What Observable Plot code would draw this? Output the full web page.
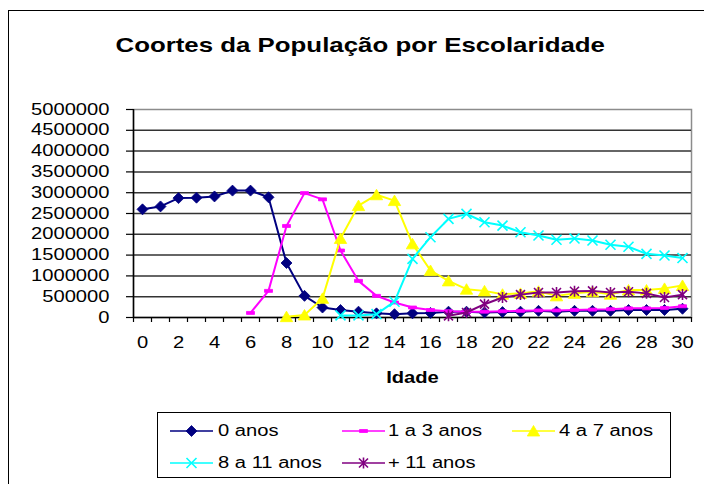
<!DOCTYPE html>
<html><head><meta charset="utf-8">
<script src="https://cdn.jsdelivr.net/npm/d3@7"></script>
<script src="https://cdn.jsdelivr.net/npm/@observablehq/plot@0.6"></script>
<style>
html,body{margin:0;padding:0;background:#fff;}
#page{position:relative;width:704px;height:484px;overflow:hidden;font-family:"Liberation Sans",Arial,sans-serif;color:#000;background:#fff;}
#bleft{position:absolute;left:8px;top:10px;width:1px;height:474px;background:#000;z-index:0;}
#btop{position:absolute;left:8px;top:10px;width:696px;height:1px;background:#000;z-index:0;}
#title{position:absolute;left:0;top:35px;width:720px;text-align:center;font-size:20.5px;font-weight:bold;line-height:1;white-space:nowrap;z-index:1;}
#title span{display:inline-block;transform:scaleX(1.26);}
#chart{position:absolute;left:0;top:91px;z-index:1;}
#legend{position:absolute;left:157px;top:412px;width:512px;height:64px;border:1px solid #000;background:#fff;z-index:1;}
.sw{position:absolute;overflow:visible;}
.ltext{position:absolute;font-size:16px;line-height:1;white-space:nowrap;transform-origin:left center;transform:scaleX(1.26);}
</style>
</head>
<body>
<div id="page">
  <div id="bleft"></div>
  <div id="btop"></div>
  <div id="title"><span>Coortes da População por Escolaridade</span></div>
  <div id="chart"></div>
  <div id="legend"></div>
</div>
<script>
// ---- data ----
const ages = [0,1,2,3,4,5,6,7,8,9,10,11,12,13,14,15,16,17,18,19,20,21,22,23,24,25,26,27,28,29,30];
const xTickLabels = [0,2,4,6,8,10,12,14,16,18,20,22,24,26,28,30];
const yTicks = [0,500000,1000000,1500000,2000000,2500000,3000000,3500000,4000000,4500000,5000000];
const seriesNames = ["0 anos","1 a 3 anos","4 a 7 anos","8 a 11 anos","+ 11 anos"];
const seriesColors = ["#000080","#FF00FF","#FFFF00","#00FFFF","#800080"];

const anos0 = [2600000,2670000,2870000,2880000,2910000,3050000,3050000,2890000,1310000,520000,240000,180000,140000,100000,80000,100000,110000,140000,140000,120000,130000,140000,160000,140000,160000,160000,160000,180000,180000,180000,210000];
const anos1a3 = [null,null,null,null,null,null,110000,640000,2200000,2990000,2840000,1610000,880000,520000,360000,240000,180000,150000,140000,140000,150000,160000,170000,170000,180000,190000,200000,220000,220000,230000,270000];
const anos4a7 = [null,null,null,null,null,null,null,null,20000,60000,460000,1900000,2690000,2950000,2810000,1770000,1130000,880000,680000,640000,560000,580000,630000,520000,580000,620000,560000,660000,660000,700000,770000];
const anos8a11 = [null,null,null,null,null,null,null,null,null,null,null,50000,50000,80000,380000,1410000,1930000,2370000,2490000,2290000,2210000,2050000,1970000,1870000,1900000,1850000,1750000,1700000,1530000,1490000,1430000];
const anos11mais = [null,null,null,null,null,null,null,null,null,null,null,null,null,null,null,null,null,40000,120000,320000,480000,550000,600000,600000,630000,640000,600000,620000,580000,480000,550000];

const seriesValues = [anos0, anos1a3, anos4a7, anos8a11, anos11mais];

// ---- marker symbols (Excel style) ----
const diamondSym = {draw(c){ const r=5.5; c.moveTo(0,-r); c.lineTo(r,0); c.lineTo(0,r); c.lineTo(-r,0); c.closePath(); }};
const dashSym = {draw(c){ c.moveTo(-4,-1.5); c.lineTo(4,-1.5); c.lineTo(4,1.5); c.lineTo(-4,1.5); c.closePath(); }};
const triSym = {draw(c){ c.moveTo(0,-5.5); c.lineTo(6.2,5); c.lineTo(-6.2,5); c.closePath(); }};
const timesSym = {draw(c){ const r=5; c.moveTo(-r,-r); c.lineTo(r,r); c.moveTo(-r,r); c.lineTo(r,-r); }};
const starSym = {draw(c){ const r=4.5; c.moveTo(-r,-r); c.lineTo(r,r); c.moveTo(-r,r); c.lineTo(r,-r); c.moveTo(0,-5.5); c.lineTo(0,5.5); }};
const markerDefs = [
  {symbol: diamondSym, fill: true},
  {symbol: dashSym, fill: true},
  {symbol: triSym, fill: true},
  {symbol: timesSym, fill: false},
  {symbol: starSym, fill: false}
];

const rows = seriesNames.map((name, si) => ages.map((a, i) => ({age: a, value: seriesValues[si][i], series: name})));
const boundaries = ages.map(a => a - 0.5).concat([ages[ages.length - 1] + 0.5]);
const gridLines = yTicks.slice(1, -1);

const seriesMarks = rows.flatMap((data, si) => {
  const col = seriesColors[si];
  const m = markerDefs[si];
  const pts = data.filter(d => d.value != null);
  return [
    Plot.line(data, {x: "age", y: "value", stroke: col, strokeWidth: 2}),
    Plot.dot(pts, {x: "age", y: "value", symbol: m.symbol, r: 5,
      fill: m.fill ? col : "none", stroke: col, strokeWidth: m.fill ? 0.8 : 1.6})
  ];
});

const chart = Plot.plot({
  width: 704, height: 320,
  marginLeft: 133, marginRight: 13, marginTop: 18, marginBottom: 94,
  x: {domain: [-0.5, 30.5], axis: null, label: null},
  y: {domain: [0, 5000000], axis: null, label: null},
  style: {fontFamily: "Liberation Sans, Arial, sans-serif", fontSize: "16px", background: "transparent", color: "#000", overflow: "visible"},
  marks: [
    Plot.frame({stroke: "#8c8c8c", strokeWidth: 1.5}),
    Plot.ruleY(gridLines, {stroke: "#333", strokeWidth: 1.5}),
    Plot.ruleY([0], {stroke: "#000", strokeWidth: 1.5}),
    Plot.ruleX([-0.5], {stroke: "#000", strokeWidth: 1.5}),
    Plot.axisY(yTicks, {tickSize: 7, tickPadding: 17, tickFormat: d => String(d), label: null, strokeWidth: 1.2}),
    Plot.axisX(boundaries, {tickSize: 5, tickFormat: () => "", label: null, strokeWidth: 1.2}),
    Plot.axisX(xTickLabels, {tickSize: 0, tickPadding: 19, label: null}),
    Plot.text(["Idade"], {text: d => d, frameAnchor: "bottom", dy: 60, lineAnchor: "middle", fontWeight: "bold"}),
    ...seriesMarks
  ]
});

document.getElementById("chart").appendChild(chart);
// stretch text horizontally (Excel rendering) without moving its anchor
chart.querySelectorAll("text").forEach(t => {
  const L = t.getComputedTextLength();
  if (L > 0) {
    t.setAttribute("textLength", (L * 1.26).toFixed(2));
    t.setAttribute("lengthAdjust", "spacingAndGlyphs");
  }
});

// ---- legend ----
const legend = document.getElementById("legend");
const legendPos = [
  {sx: 12, tx: 60, ly: 17.7, ty: 10.4},
  {sx: 184, tx: 230, ly: 17.7, ty: 10.4},
  {sx: 354, tx: 401, ly: 17.7, ty: 10.4},
  {sx: 12, tx: 60, ly: 49.7, ty: 42},
  {sx: 184, tx: 230, ly: 49.7, ty: 42}
];
seriesNames.forEach((name, i) => {
  const p = legendPos[i];
  const col = seriesColors[i];
  const m = markerDefs[i];
  const w = 43, h = 16;
  const svg = d3.create("svg").attr("class", "sw").attr("width", w).attr("height", h)
    .style("left", p.sx + "px").style("top", (p.ly - h / 2) + "px");
  svg.append("line").attr("x1", 0).attr("x2", w).attr("y1", h / 2).attr("y2", h / 2)
    .attr("stroke", col).attr("stroke-width", 1.6);
  const path = d3.path(); m.symbol.draw(path, 0);
  svg.append("path").attr("d", path.toString()).attr("transform", `translate(${w / 2},${h / 2})`)
    .attr("fill", m.fill ? col : "none").attr("stroke", col).attr("stroke-width", m.fill ? 0.8 : 1.6);
  legend.appendChild(svg.node());
  const t = document.createElement("div");
  t.className = "ltext"; t.textContent = name;
  t.style.left = p.tx + "px"; t.style.top = p.ty + "px";
  legend.appendChild(t);
});
</script>
</body></html>
